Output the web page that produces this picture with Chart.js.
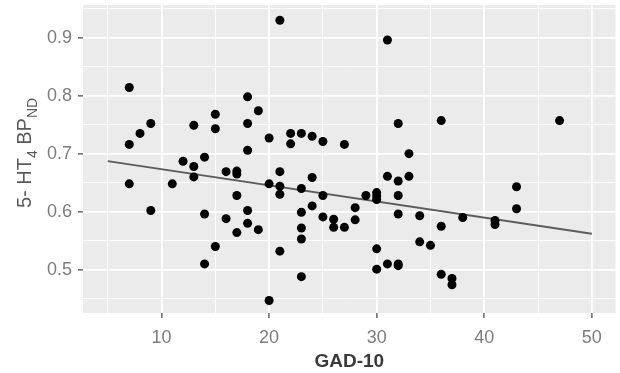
<!DOCTYPE html>
<html>
<head>
<meta charset="utf-8">
<script src="https://cdn.jsdelivr.net/npm/chart.js@4.4.1/dist/chart.umd.min.js"></script>
<style>
  body { margin: 0; background: #ffffff; }
  #wrap { width: 620px; height: 373px; }
</style>
</head>
<body>
<div id="wrap"><canvas id="scatter" width="620" height="373"></canvas></div>
<script>
/************************************************************
    GAD-10 vs 5-HT4 BPND scatter with fitted line
*************************************************************/

// GAD-10 score of each subject
var gadScore = [7, 7, 7, 8, 9, 9, 11, 12, 13, 13, 13, 14, 14, 14, 15, 15, 15, 16, 16,
  17, 17, 17, 17, 18, 18, 18, 18, 18, 19, 19, 20, 20, 20, 21, 21, 21, 21, 21, 22, 22,
  23, 23, 23, 23, 23, 23, 24, 24, 24, 25, 25, 25, 26, 26, 27, 27, 28, 28, 29,
  30, 30, 30, 30, 30, 31, 31, 31, 32, 32, 32, 32, 32, 32, 33, 33, 34, 34, 35,
  36, 36, 36, 37, 37, 38, 41, 41, 43, 43, 47];

// 5-HT4 BPND, same order as gadScore
var bindingBP = [0.814, 0.716, 0.648, 0.735, 0.752, 0.602, 0.648, 0.687, 0.749, 0.678, 0.660,
  0.694, 0.596, 0.510, 0.768, 0.743, 0.540, 0.669, 0.588,
  0.670, 0.665, 0.628, 0.564, 0.798, 0.752, 0.706, 0.602, 0.580, 0.774, 0.569,
  0.727, 0.648, 0.447, 0.930, 0.669, 0.644, 0.630, 0.532, 0.735, 0.717,
  0.735, 0.640, 0.599, 0.572, 0.553, 0.488, 0.730, 0.659, 0.610, 0.721, 0.628, 0.591,
  0.587, 0.573, 0.716, 0.573, 0.607, 0.586, 0.628,
  0.633, 0.627, 0.621, 0.536, 0.501, 0.896, 0.661, 0.510, 0.752, 0.653, 0.628, 0.596, 0.510, 0.507,
  0.700, 0.661, 0.593, 0.548, 0.542,
  0.757, 0.575, 0.492, 0.485, 0.474, 0.590, 0.585, 0.578, 0.643, 0.605, 0.757];

// end points of the regression line
var fitX = [5, 50];
var fitY = [0.687, 0.562];

// axis ranges and tick labels
var xRange = [2.7, 52.2];
var yRange = [0.4254, 0.9563];
var xLabels = [10, 20, 30, 40, 50];
var yLabels = [0.5, 0.6, 0.7, 0.8, 0.9];

var FONT = '"Liberation Sans", Arial, sans-serif';

function isMajor(v, list) {
  return list.some(function (m) { return Math.abs(m - v) < 1e-6; });
}

// grey ggplot-ish panel behind the grid
var panelBg = {
  id: 'panelBg',
  beforeDraw: function (chart) {
    var a = chart.chartArea, ctx = chart.ctx;
    ctx.save();
    ctx.fillStyle = '#ffffff';
    ctx.fillRect(0, 0, chart.width, chart.height);
    ctx.fillStyle = '#EBEBEB';
    ctx.fillRect(a.left, a.top, a.right - a.left, a.bottom - a.top);
    ctx.restore();
  }
};

// y title has subscripts, so draw it piece by piece
var yTitle = {
  id: 'yTitle',
  afterDraw: function (chart) {
    var ctx = chart.ctx;
    var parts = [['5- HT', 20, 0], ['4', 14, 6], [' BP', 20, 0], ['ND', 14, 6]];
    ctx.save();
    var total = 0;
    parts.forEach(function (p) {
      ctx.font = p[1] + 'px ' + FONT;
      total += ctx.measureText(p[0]).width;
    });
    ctx.translate(30.5, 153);
    ctx.rotate(-Math.PI / 2);
    ctx.fillStyle = '#5a5a5a';
    ctx.textBaseline = 'alphabetic';
    var x = -total / 2;
    parts.forEach(function (p) {
      ctx.font = p[1] + 'px ' + FONT;
      ctx.fillText(p[0], x, p[2]);
      x += ctx.measureText(p[0]).width;
    });
    ctx.restore();
  }
};

var points = gadScore.map(function (g, i) { return { x: g, y: bindingBP[i] }; });
var fitLine = fitX.map(function (g, i) { return { x: g, y: fitY[i] }; });

new Chart(document.getElementById('scatter'), {
  type: 'scatter',
  data: {
    datasets: [
      {
        label: 'subjects',
        data: points,
        backgroundColor: '#000000',
        borderColor: '#000000',
        pointRadius: 4.5,
        borderWidth: 0
      },
      {
        label: 'fit',
        data: fitLine,
        showLine: true,
        borderColor: '#5c5c5c',
        borderWidth: 1.8,
        pointRadius: 0
      }
    ]
  },
  options: {
    responsive: false,
    animation: false,
    layout: { padding: { left: 0, right: 3, top: 5, bottom: 0 } },
    plugins: {
      legend: { display: false },
      tooltip: { enabled: false }
    },
    scales: {
      x: {
        type: 'linear',
        min: xRange[0],
        max: xRange[1],
        afterFit: function (s) { s.height = 60; s.paddingLeft = 0; s.paddingRight = 0; },
        border: { display: false },
        grid: {
          color: '#ffffff',
          lineWidth: function (c) { return isMajor(c.tick.value, xLabels) ? 1.8 : 0.9; },
          tickColor: function (c) { return isMajor(c.tick.value, xLabels) ? '#444444' : 'rgba(0,0,0,0)'; },
          tickLength: 5,
          tickWidth: 1.2
        },
        ticks: {
          stepSize: 5,
          includeBounds: false,
          maxRotation: 0,
          autoSkip: false,
          padding: 9,
          color: '#7d7d7d',
          font: { family: FONT, size: 18 },
          callback: function (v) { return isMajor(v, xLabels) ? String(v) : ''; }
        },
        title: {
          display: true,
          text: 'GAD-10',
          color: '#3a3a3a',
          font: { family: FONT, size: 19, weight: 'bold' },
          padding: { top: 0, bottom: 0 }
        }
      },
      y: {
        type: 'linear',
        min: yRange[0],
        max: yRange[1],
        afterFit: function (s) { s.width = 83; s.paddingTop = 0; s.paddingBottom = 0; },
        border: { display: false },
        grid: {
          color: '#ffffff',
          lineWidth: function (c) { return isMajor(c.tick.value, yLabels) ? 1.8 : 0.9; },
          tickColor: function (c) { return isMajor(c.tick.value, yLabels) ? '#444444' : 'rgba(0,0,0,0)'; },
          tickLength: 5,
          tickWidth: 1.2
        },
        ticks: {
          stepSize: 0.05,
          includeBounds: false,
          autoSkip: false,
          padding: 6,
          color: '#7d7d7d',
          font: { family: FONT, size: 18 },
          callback: function (v) { return isMajor(v, yLabels) ? v.toFixed(1) : ''; }
        }
      }
    }
  },
  plugins: [panelBg, yTitle]
});
</script>
</body>
</html>
